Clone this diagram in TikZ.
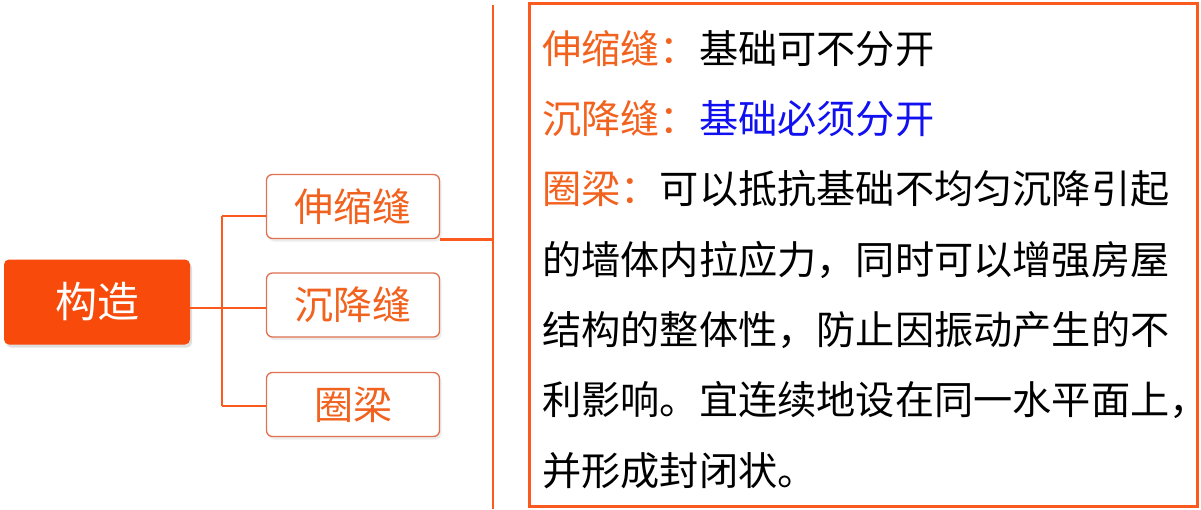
\documentclass[tikz,border=0pt]{standalone}
\usepackage{fontspec}
\setmainfont{Noto Sans CJK SC}
\usetikzlibrary{shadows}
\definecolor{mainor}{HTML}{F84A0A}
\definecolor{lineor}{HTML}{FA5A1E}
\definecolor{boxbd}{HTML}{E0704E}
\definecolor{txtor}{HTML}{F2621F}
\definecolor{txtbl}{HTML}{1010F0}
\tikzset{
  mainbox/.style={draw=none, fill=mainor, rounded corners=5pt, minimum width=186pt, minimum height=85pt,
    text=white, font=\fontsize{42pt}{46pt}\selectfont, inner sep=0pt,
    drop shadow={shadow xshift=2pt, shadow yshift=-3pt, opacity=0.25}},
  branchbox/.style={draw=boxbd, line width=1.3pt, fill=white, rounded corners=6pt, minimum width=173pt, minimum height=64pt,
    text=txtor, font=\fontsize{39pt}{42pt}\selectfont, inner sep=0pt,
    drop shadow={shadow xshift=2pt, shadow yshift=-3pt, opacity=0.15}},
  conn/.style={draw=lineor, line width=2.8pt},
  txtline/.style={anchor=base west, inner sep=0pt, font=\fontsize{39.2pt}{42pt}\selectfont},
  bigbox/.style={draw=lineor, line width=3pt, minimum width=668pt, minimum height=503pt, inner sep=0pt}
}
\begin{document}
\begin{tikzpicture}[x=1pt,y=-1pt]
\useasboundingbox (0,0) rectangle (1201,509);
\node[mainbox] (m) at (97,302) {构造};
\node[branchbox] (b1) at (353,206.5) {伸缩缝};
\node[branchbox] (b2) at (353,305) {沉降缝};
\node[branchbox] (b3) at (353,404.5) {圈梁};
\coordinate (j) at (222,308);
\draw[conn] (m.east |- j) -- (j);
\draw[conn] (222,216) -- (222,406);
\draw[conn] (222,216) -- (b1.west |- 0,216);
\draw[conn] (j) -- (b2.west |- j);
\draw[conn] (222,406) -- (b3.west |- 0,406);
\coordinate (vtop) at (493,5);
\coordinate (vbot) at (493,509);
\draw[conn] (vtop) -- (vbot);
\draw[conn] (b1.south east) -- (b1.south east -| vtop);
\node[bigbox] (box) at (863.5,254.5) {};
\node[txtline] (l1) at (542,63) {{\color{txtor}伸缩缝：}基础可不分开};
\node[txtline] (l2) at (542,133) {{\color{txtor}沉降缝：}{\color{txtbl}基础必须分开}};
\node[txtline] (l3) at (542,203) {{\color{txtor}圈梁：}可以抵抗基础不均匀沉降引起};
\node[txtline] (l4) at (542,274) {的墙体内拉应力，同时可以增强房屋};
\node[txtline] (l5) at (542,344) {结构的整体性，防止因振动产生的不};
\node[txtline] (l6) at (542,414) {利影响。宜连续地设在同一水平面上\makebox[0.3em][l]{，}};
\node[txtline] (l7) at (542,485) {并形成封闭状。};
\end{tikzpicture}
\end{document}
